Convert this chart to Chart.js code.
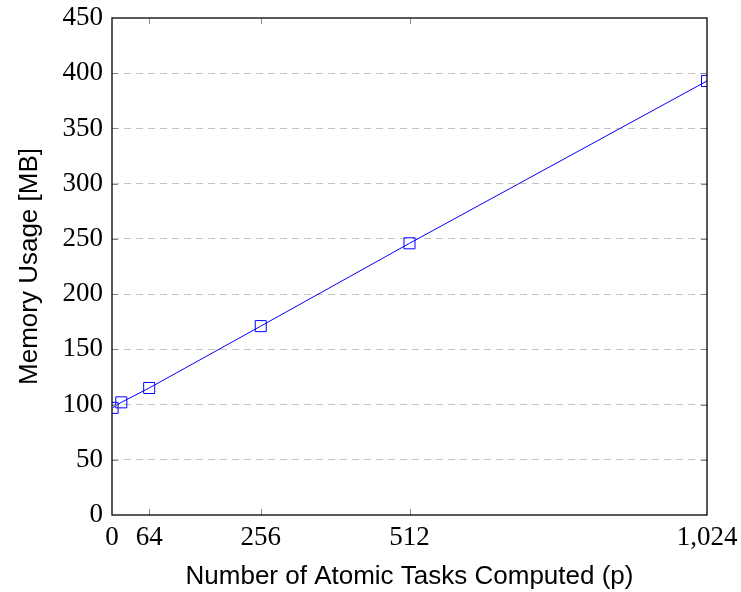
<!DOCTYPE html>
<html>
<head>
<meta charset="utf-8">
<script src="https://cdn.jsdelivr.net/npm/chart.js@4.4.1/dist/chart.umd.min.js"></script>
<style>
  html, body { margin: 0; padding: 0; background: #fff; }
  #wrap { width: 741px; height: 592px; }
</style>
</head>
<body>
<div id="wrap"><canvas id="c" width="741" height="592"></canvas></div>
<script>
// Memory usage measured for different numbers of atomic tasks
const taskCounts = [1, 16, 64, 256, 512, 1024];
const memoryMB = [97, 102, 115, 171, 246, 393];
const xTickValues = [0, 64, 256, 512, 1024];
const yTickValues = [0, 50, 100, 150, 200, 250, 300, 350, 400, 450];

const serif = '"Liberation Serif", "DejaVu Serif", serif';
const sans = '"Liberation Sans", Arial, sans-serif';

// Short inward tick marks on all four sides, plus the frame
const innerTicks = {
  id: 'innerTicks',
  afterDatasetsDraw(chart) {
    const { ctx, chartArea: a, scales: { x, y } } = chart;
    const len = 6;
    ctx.save();
    ctx.strokeStyle = '#8a8a8a';
    ctx.lineWidth = 1;
    ctx.beginPath();
    xTickValues.forEach(v => {
      const px = Math.round(x.getPixelForValue(v)) + 0.5;
      if (px <= a.left + 1 || px >= a.right - 1) return;
      ctx.moveTo(px, a.bottom); ctx.lineTo(px, a.bottom - len);
      ctx.moveTo(px, a.top); ctx.lineTo(px, a.top + len);
    });
    yTickValues.forEach(v => {
      const py = Math.round(y.getPixelForValue(v)) + 0.5;
      if (py <= a.top + 1 || py >= a.bottom - 1) return;
      ctx.moveTo(a.left, py); ctx.lineTo(a.left + len, py);
      ctx.moveTo(a.right, py); ctx.lineTo(a.right - len, py);
    });
    ctx.stroke();
    ctx.strokeStyle = '#000';
    ctx.lineWidth = 1.3;
    ctx.strokeRect(a.left, a.top, a.right - a.left, a.bottom - a.top);
    ctx.restore();
  }
};

new Chart(document.getElementById('c'), {
  type: 'scatter',
  data: {
    datasets: [{
      data: taskCounts.map((t, i) => ({ x: t, y: memoryMB[i] })),
      showLine: true,
      borderColor: '#0000ff',
      borderWidth: 1,
      pointStyle: 'rect',
      pointRadius: 7.8,
      pointBorderWidth: 1,
      pointBorderColor: '#0000ff',
      pointBackgroundColor: 'rgba(0,0,0,0)',
      tension: 0
    }]
  },
  options: {
    responsive: false,
    animation: false,
    events: [],
    layout: { padding: 0 },
    plugins: { legend: { display: false }, tooltip: { enabled: false } },
    scales: {
      x: {
        type: 'linear',
        min: 0,
        max: 1024,
        afterBuildTicks(scale) { scale.ticks = xTickValues.map(v => ({ value: v })); },
        afterFit(scale) {
          scale.height = 77;
          scale.paddingRight = 34;
          scale.paddingLeft = 0;
        },
        grid: { display: false, drawTicks: false },
        border: { display: false },
        ticks: {
          color: '#000',
          font: { family: serif, size: 27 },
          padding: 7,
          maxRotation: 0,
          autoSkip: false,
          callback: v => Number(v).toLocaleString('en-US')
        },
        title: {
          display: true,
          text: 'Number of Atomic Tasks Computed (p)',
          color: '#000',
          font: { family: sans, size: 26 },
          padding: { top: 4, bottom: 0 }
        }
      },
      y: {
        type: 'linear',
        min: 0,
        max: 450,
        afterBuildTicks(scale) { scale.ticks = yTickValues.map(v => ({ value: v })); },
        afterFit(scale) {
          scale.width = 112;
          scale.paddingTop = 18;
          scale.paddingBottom = 0;
        },
        grid: {
          color: ctx => (ctx.tick && (ctx.tick.value === 0 || ctx.tick.value === 450)) ? 'rgba(0,0,0,0)' : '#c4c4c4',
          drawTicks: false,
          lineWidth: 1
        },
        border: { display: false, dash: [7, 5] },
        ticks: {
          color: '#000',
          font: { family: serif, size: 27 },
          padding: 9
        },
        title: {
          display: true,
          text: 'Memory Usage [MB]',
          color: '#000',
          font: { family: sans, size: 26 },
          padding: { top: 14, bottom: 4 }
        }
      }
    }
  },
  plugins: [innerTicks]
});
</script>
</body>
</html>
